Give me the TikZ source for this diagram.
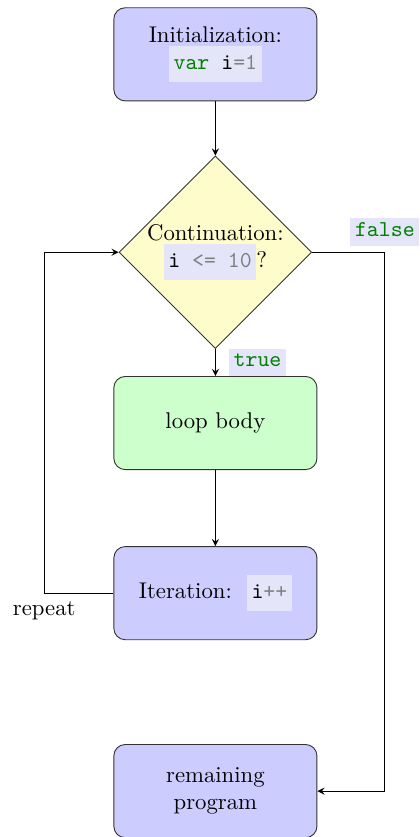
\documentclass[tikz,border=0pt]{standalone}
\usepackage{xcolor}
\usetikzlibrary{arrows}
\usetikzlibrary{shapes}
\usetikzlibrary{positioning}
\definecolor{codegreen}{rgb}{0,0.5,0}
\definecolor{codebg}{rgb}{0.9,0.9,0.98}
\newcommand{\codebox}[1]{{\setlength{\fboxsep}{2pt}\colorbox{codebg}{\strut\texttt{#1}}}}
\newcommand{\codelabel}[1]{{\setlength{\fboxsep}{2pt}\colorbox{codebg}{\vphantom{p}\texttt{\color{codegreen}#1}}}}

\begin{document}
\begin{tikzpicture}[>=stealth,
  block/.style={draw=black!80,rounded corners=5pt,minimum width=3.14cm,minimum height=1.44cm,align=center},
  decision/.style={draw=black!80,diamond,fill=yellow!20,minimum width=2.95cm,minimum height=2.95cm,inner sep=0pt,align=center}]
\useasboundingbox (0,0) rectangle (6.49,-12.94);
\node[block,fill=blue!20] (init) at (3.33,-0.84) {Initialization:\\ \codebox{\textcolor{codegreen}{var} i\textcolor{gray}{=1}}};
\node[decision] (cond) at (3.33,-3.90) {Continuation:\\ \codebox{i \textcolor{gray}{<= 10}}?};
\node[block,fill=green!20] (body) at (3.33,-6.54) {loop body};
\node[block,fill=blue!20] (iter) at (3.33,-9.17) {Iteration:\ \ \codebox{i\textcolor{gray}{++}}};
\node[block,fill=blue!20] (rest) at (3.33,-12.23) {remaining\\ program};
\coordinate (fls) at (5.95,-3.90);
\draw[->] (init) -- (cond);
\draw[->] (cond) -- node[right=2.5pt]{\codelabel{true}} (body);
\draw[->] (body) -- (iter);
\draw[->] (iter.west) -- ++(-1.07,0) coordinate (rep) |- (cond.west);
\node[below] (replabel) at (rep) {repeat};
\draw[->] (cond.east) -- (fls) |- (rest.east);
\node[above=-0.6pt] (flslabel) at (fls) {\codelabel{false}};
\end{tikzpicture}
\end{document}
